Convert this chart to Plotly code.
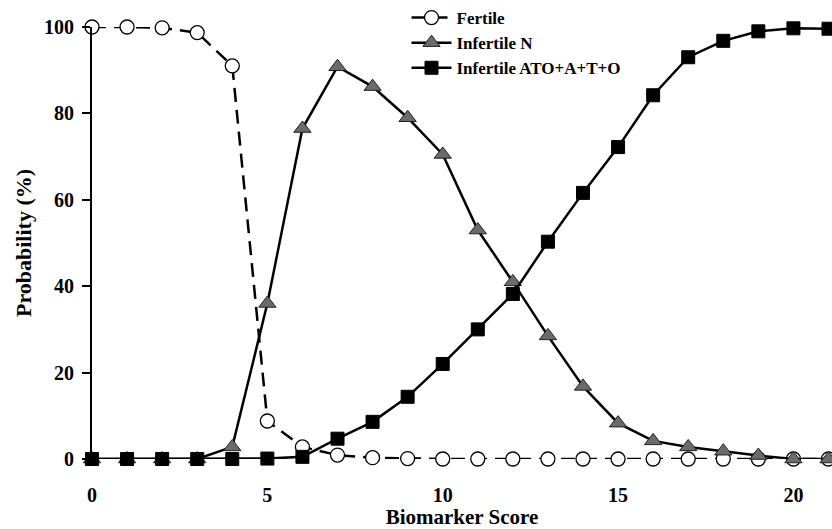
import plotly.graph_objects as go

scores = list(range(22))
fertile = [100, 100, 99.8, 98.7, 91, 8.8, 2.8, 0.9, 0.3, 0.1, 0, 0, 0, 0, 0, 0, 0, 0, 0, 0, 0, 0]
infertile_n = [0, 0, 0, 0, 2.8, 36, 76.5, 90.8, 86.2, 79, 70.5, 53, 41, 28.5, 16.8, 8.3, 4.2, 2.8, 1.8, 0.8, 0, 0]
infertile_ato = [0, 0, 0, 0, 0, 0.1, 0.5, 4.7, 8.6, 14.4, 22, 30, 38.2, 50.3, 61.6, 72.2, 84.2, 93, 96.8, 99, 99.7, 99.6]

names = ["Fertile", "Infertile N", "Infertile ATO+A+T+O"]
x_ticks = [0, 5, 10, 15, 20]
y_ticks = [0, 20, 40, 60, 80, 100]

FONT = "Liberation Serif"

fig = go.Figure()
fig.add_trace(go.Scatter(
    x=scores, y=fertile, name=names[0], mode="lines+markers", cliponaxis=False,
    line=dict(color="black", width=2.5, dash="14px,8px"),
    marker=dict(symbol="circle", size=14, color="white", line=dict(color="black", width=1.3)),
))
fig.add_trace(go.Scatter(
    x=scores, y=infertile_n, name=names[1], mode="lines+markers", cliponaxis=False,
    line=dict(color="black", width=2.5),
    marker=dict(symbol="triangle-up", size=15, color="#6b6b6b", line=dict(color="#222222", width=1)),
))
fig.add_trace(go.Scatter(
    x=scores, y=infertile_ato, name=names[2], mode="lines+markers", cliponaxis=False,
    line=dict(color="black", width=2.5),
    marker=dict(symbol="square", size=13, color="black", line=dict(color="black", width=1)),
))

fig.update_layout(
    width=832, height=529,
    margin=dict(l=92, r=0, t=27, b=70, autoexpand=False),
    paper_bgcolor="white", plot_bgcolor="white",
    font=dict(family=FONT, color="black"),
    showlegend=True,
    legend=dict(
        x=0.425, y=1.0, xanchor="left", yanchor="top", yref="container",
        bgcolor="rgba(0,0,0,0)", font=dict(family=FONT, size=17, color="black", weight="bold"),
        itemwidth=40, tracegroupgap=0,
    ),
    xaxis=dict(
        range=[0, 21.1], tickvals=x_ticks, showgrid=False, zeroline=False, showline=False,
        ticks="", tickfont=dict(family=FONT, size=20, weight="bold"),
        ticklabelstandoff=22,
        title=dict(text="Biomarker Score", font=dict(family=FONT, size=21, weight="bold"), standoff=2),
    ),
    yaxis=dict(
        range=[0, 100], tickvals=y_ticks, showgrid=False, zeroline=False,
        showline=True, linecolor="black", linewidth=2,
        ticks="outside", ticklen=8, tickwidth=2, tickcolor="black",
        tickfont=dict(family=FONT, size=20, weight="bold"),
        ticklabelstandoff=4,
        title=dict(text="Probability (%)", font=dict(family=FONT, size=22, weight="bold"), standoff=6),
    ),
)

fig.write_html("out.html")
